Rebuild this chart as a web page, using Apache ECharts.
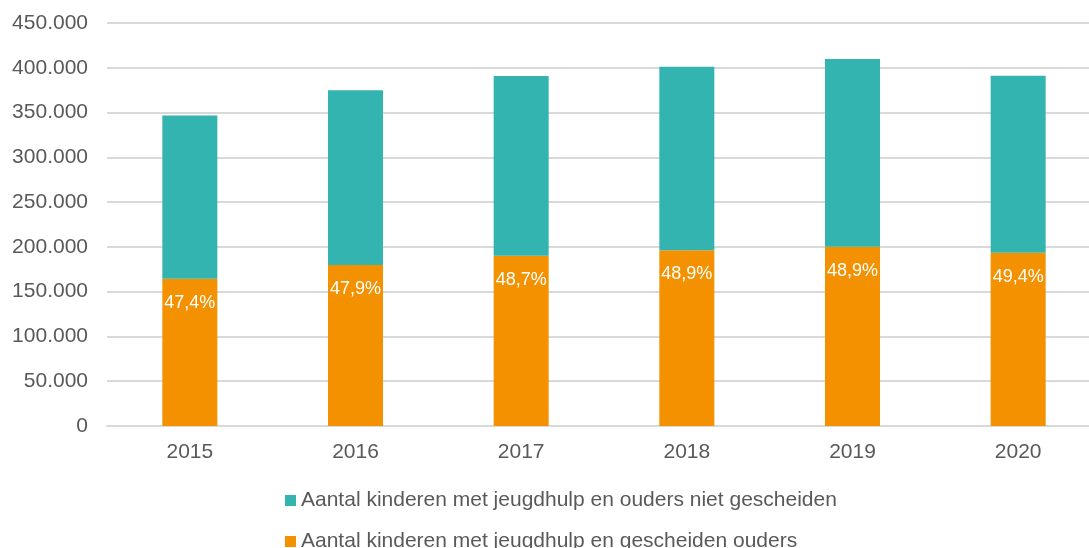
<!DOCTYPE html>
<html>
<head>
<meta charset="utf-8">
<script src="https://cdn.jsdelivr.net/npm/echarts@6/dist/echarts.min.js"></script>
<style>
    html, body { margin: 0; padding: 0; background: #fff; overflow: hidden; }
    #chart { width: 1101px; height: 548px; }
</style>
</head>
<body>
<div id="chart"></div>
<script>
    // jaren op de x-as
    var years = ['2015', '2016', '2017', '2018', '2019', '2020'];
    // kinderen met jeugdhulp, gescheiden ouders (onderste deel)
    var gescheiden = [164400, 179700, 190200, 196200, 200200, 193500];
    // kinderen met jeugdhulp, ouders niet gescheiden (bovenste deel)
    var nietGescheiden = [182400, 195300, 200600, 205000, 209600, 197700];
    // aandeel gescheiden, zoals in de grafiek
    var aandeelLabels = ['47,4%', '47,9%', '48,7%', '48,9%', '48,9%', '49,4%'];

    var nameNiet = 'Aantal kinderen met jeugdhulp en ouders niet gescheiden';
    var nameGesch = 'Aantal kinderen met jeugdhulp en gescheiden ouders';

    function dots(v) {
        return String(v).replace(/\B(?=(\d{3})+(?!\d))/g, '.');
    }

    var legendText = { color: '#595959', fontSize: 21, padding: [0, 0, 0, 0] };

    var chart = echarts.init(document.getElementById('chart'));
    chart.setOption({
        animation: false,
        textStyle: { fontFamily: 'Liberation Sans, Arial, sans-serif' },
        grid: {
            left: 107,
            right: 0,
            top: 23,
            bottom: 122
        },
        legend: [
            {
                data: [nameNiet],
                left: 285,
                top: 490,
                padding: 0,
                itemWidth: 11,
                itemHeight: 11,
                icon: 'rect',
                textStyle: legendText
            },
            {
                data: [nameGesch],
                left: 285,
                top: 531,
                padding: 0,
                itemWidth: 11,
                itemHeight: 11,
                icon: 'rect',
                textStyle: legendText
            }
        ],
        xAxis: {
            type: 'category',
            data: years,
            axisLine: { lineStyle: { color: '#d9d9d9', width: 2 } },
            axisTick: { show: false },
            axisLabel: { color: '#595959', fontSize: 21, margin: 16 }
        },
        yAxis: {
            type: 'value',
            min: 0,
            max: 450000,
            interval: 50000,
            axisLine: { show: false },
            axisTick: { show: false },
            splitLine: { lineStyle: { color: '#d9d9d9', width: 2 } },
            axisLabel: {
                color: '#595959',
                fontSize: 21,
                margin: 19,
                formatter: function (v) { return dots(v); }
            }
        },
        series: [
            {
                name: nameGesch,
                type: 'bar',
                stack: 'totaal',
                barWidth: 55,
                data: gescheiden,
                itemStyle: { color: '#F39100' },
                label: {
                    show: true,
                    position: 'insideTop',
                    distance: 15,
                    color: '#fff',
                    fontSize: 18,
                    formatter: function (p) { return aandeelLabels[p.dataIndex]; }
                }
            },
            {
                name: nameNiet,
                type: 'bar',
                stack: 'totaal',
                barWidth: 55,
                data: nietGescheiden,
                itemStyle: { color: '#33B4B1' }
            }
        ]
    });
</script>
</body>
</html>
